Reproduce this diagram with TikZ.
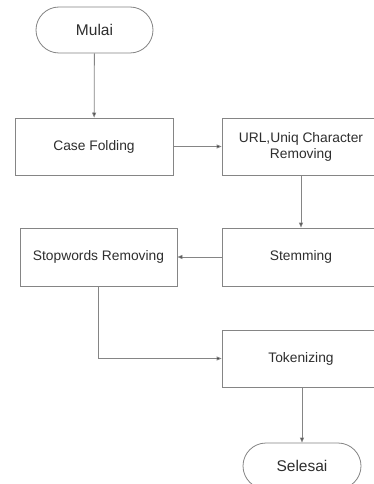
\documentclass[tikz,border=0pt]{standalone}
\usepackage{fontspec}
\setmainfont{Liberation Sans}
\usetikzlibrary{arrows.meta}
\definecolor{linegray}{HTML}{858585}
\definecolor{textgray}{HTML}{2E2E2E}
\tikzset{
  flowline/.style={draw=linegray, line width=0.8pt},
  flowarrow/.style={flowline, -{Triangle[length=5pt,width=4pt,fill=textgray]}},
  procbox/.style={draw=linegray, line width=0.8pt, rectangle, minimum width=158pt,
    minimum height=57pt, inner sep=2pt, align=center, text=textgray,
    font=\fontsize{13.8pt}{16pt}\selectfont},
  terminal/.style={draw=linegray, line width=0.8pt, rectangle, rounded corners=23pt,
    minimum width=117pt, minimum height=46pt, inner sep=2pt, text=textgray,
    font=\fontsize{15.5pt}{18pt}\selectfont}
}
\begin{document}
\begin{tikzpicture}[x=1pt, y=-1pt]
  \clip (0,0) rectangle (374,484);
  \fill[white] (0,0) rectangle (374,484);

  % terminals and process steps
  \node[terminal] (mulai) at (94.5,30) {Mulai};
  \node[procbox] (case) at (94,146.5) {Case Folding};
  \node[procbox] (url) at (301,146.5) {URL,Uniq Character\\Removing};
  \node[procbox, minimum height=58pt] (stem) at (301,257) {Stemming};
  \node[procbox, minimum width=157pt, minimum height=58pt] (stop) at (98.5,257) {Stopwords Removing};
  \node[procbox] (token) at (301,358.5) {Tokenizing};
  \node[terminal, minimum width=118pt] (selesai) at (302,466) {Selesai};

  % connectors
  \draw[flowarrow] (mulai) -- (case);
  \draw[flowarrow] (case) -- (url);
  \draw[flowarrow] (url) -- (stem);
  \draw[flowarrow] (stem) -- (stop);
  \draw[flowarrow] (stop.south) |- (token.west);
  \draw[flowarrow] (token.south -| selesai.north) -- (selesai.north);
\end{tikzpicture}
\end{document}
